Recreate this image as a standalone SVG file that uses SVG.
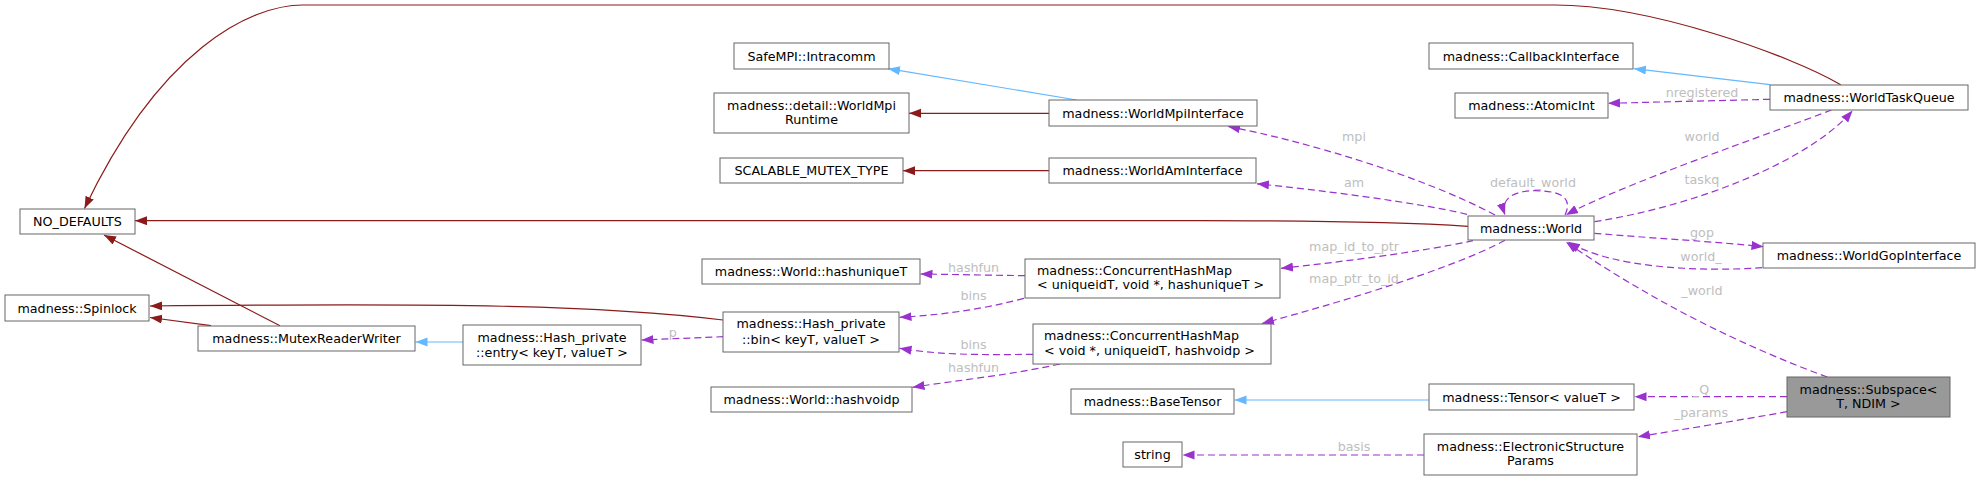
<svg xmlns="http://www.w3.org/2000/svg" width="1980" height="480" viewBox="0 0 1980 480">
<style>
.n rect{fill:#ffffff;stroke:#666666;stroke-width:1}
.n.cur rect{fill:#999999}
text{font-family:"DejaVu Sans","Liberation Sans",sans-serif;font-size:12.7px;fill:#000000}
.n text{text-anchor:middle}
.n text.l{text-anchor:start}
.lbl{fill:#bebebe;text-anchor:middle}
.e{fill:none;stroke-width:1.2}
.red{stroke:#8b1a1a;marker-end:url(#aR)}
.blue{stroke:#63b8ff;marker-end:url(#aB)}
.use{stroke:#9a32cd;stroke-dasharray:7,4;marker-end:url(#aP)}
</style>
<defs>
<marker id="aR" markerUnits="userSpaceOnUse" markerWidth="13" markerHeight="10" refX="12" refY="4.5" orient="auto"><path d="M0,0 L12,4.5 L0,9 z" fill="#8b1a1a"/></marker>
<marker id="aB" markerUnits="userSpaceOnUse" markerWidth="13" markerHeight="10" refX="12" refY="4.5" orient="auto"><path d="M0,0 L12,4.5 L0,9 z" fill="#63b8ff"/></marker>
<marker id="aP" markerUnits="userSpaceOnUse" markerWidth="13" markerHeight="10" refX="12" refY="4.5" orient="auto"><path d="M0,0 L12,4.5 L0,9 z" fill="#9a32cd"/></marker>
</defs>
<rect width="1980" height="480" fill="#ffffff"/>
<g id="connectors">
<path class="e red" d="M1840.7,84.7 C1790,55 1650,5 1555,5 L303,5 C250,5 160,50 84.5,208.5"/>
<path class="e red" d="M1468,226.3 C1400,222 1300,220.7 1200,220.7 L135,220.7"/>
<path class="e blue" d="M1076.7,100 L888,68.7"/>
<path class="e red" d="M1049,113.3 L909,113.3"/>
<path class="e red" d="M1049,170.7 L903,170.7"/>
<path class="e blue" d="M1770,84.7 L1634,68.7"/>
<path class="e use" d="M1770,99.3 L1608,103.3"/>
<path class="e use" d="M1831.5,110 C1780,130 1620,185 1566,215"/>
<path class="e use" d="M1594.5,221.7 C1700,205 1810,160 1852.6,110.5"/>
<path class="e use" d="M1565,215 C1572,200 1565,190.7 1535,190.7 C1512,190.7 1500,200 1505,215"/>
<path class="e use" d="M1495,215 C1420,175 1300,140 1228,126.5"/>
<path class="e use" d="M1467,214.3 C1420,203 1320,190 1257,183.8"/>
<path class="e use" d="M1473,240.7 C1420,252 1340,262 1281,268.3"/>
<path class="e use" d="M1505,240.3 C1450,270 1330,305 1262,323.5"/>
<path class="e use" d="M1594.5,233.3 C1650,238 1720,242 1763.5,246.7"/>
<path class="e use" d="M1762,267.7 C1700,272 1610,268 1568,241.7"/>
<path class="e use" d="M1827.3,377 C1740,345 1650,300 1566,242"/>
<path class="e use" d="M1787,396.7 L1634.5,396.7"/>
<path class="e use" d="M1787,411.7 C1740,420 1680,430 1638,436.7"/>
<path class="e use" d="M1424,455 L1182.5,455"/>
<path class="e blue" d="M1429,400 L1234.5,400"/>
<path class="e use" d="M1025,275.7 L920.5,274"/>
<path class="e use" d="M1024,298.3 C980,310 940,315 899.5,317.3"/>
<path class="e use" d="M1033,354.3 C980,355 940,355 899.5,348.3"/>
<path class="e use" d="M1060,364 C1010,375 960,380 912.5,387.3"/>
<path class="e red" d="M723,320 C600,305 450,303 150,306"/>
<path class="e red" d="M211,325.7 L150,317.5"/>
<path class="e red" d="M280,325.7 L104,235"/>
<path class="e blue" d="M463.5,342 L415.5,342"/>
<path class="e use" d="M723.3,336.7 L641.5,340"/>
<text class="lbl" x="1354" y="141">mpi</text>
<text class="lbl" x="1354" y="187">am</text>
<text class="lbl" x="1533" y="187">default_world</text>
<text class="lbl" x="1702" y="97">nregistered</text>
<text class="lbl" x="1702" y="141">world</text>
<text class="lbl" x="1702" y="183.5">taskq</text>
<text class="lbl" x="1702" y="237">gop</text>
<text class="lbl" x="1701" y="260.5">world_</text>
<text class="lbl" x="1354" y="251">map_id_to_ptr</text>
<text class="lbl" x="1354" y="283">map_ptr_to_id</text>
<text class="lbl" x="1702" y="294.5">_world</text>
<text class="lbl" x="1701" y="393.5">_Q</text>
<text class="lbl" x="1701" y="417">_params</text>
<text class="lbl" x="1354" y="450.5">basis</text>
<text class="lbl" x="973.6" y="272">hashfun</text>
<text class="lbl" x="973.6" y="299.5">bins</text>
<text class="lbl" x="973.6" y="349">bins</text>
<text class="lbl" x="973.6" y="372">hashfun</text>
<text class="lbl" x="672.7" y="336.5">p</text>
</g>
<g id="n_subspace" class="n cur"><rect x="1787" y="377" width="163" height="40"/><text x="1868.5" y="393.5">madness::Subspace&lt;</text><text x="1868.5" y="408">T, NDIM &gt;</text></g>
<g id="n_world" class="n"><rect x="1468" y="216" width="126" height="24"/><text x="1531" y="232.5">madness::World</text></g>
<g id="n_no_defaults" class="n"><rect x="20" y="209" width="115" height="25"/><text x="77.5" y="226">NO_DEFAULTS</text></g>
<g id="n_spinlock" class="n"><rect x="5" y="295" width="144" height="26"/><text x="77" y="312.5">madness::Spinlock</text></g>
<g id="n_mrw" class="n"><rect x="198" y="326" width="217" height="25"/><text x="306.5" y="343">madness::MutexReaderWriter</text></g>
<g id="n_entry" class="n"><rect x="463" y="325" width="178" height="40"/><text x="552" y="342">madness::Hash_private</text><text x="552" y="356.5">::entry&lt; keyT, valueT &gt;</text></g>
<g id="n_bin" class="n"><rect x="723" y="312" width="176" height="40"/><text x="811" y="328">madness::Hash_private</text><text x="811" y="343.5">::bin&lt; keyT, valueT &gt;</text></g>
<g id="n_hashuniqueT" class="n"><rect x="702" y="259" width="218" height="25"/><text x="811" y="276">madness::World::hashuniqueT</text></g>
<g id="n_chm1" class="n"><rect x="1025" y="259" width="255" height="39"/><text class="l" x="1037" y="274.5">madness::ConcurrentHashMap</text><text class="l" x="1037" y="289">&lt; uniqueidT, void *, hashuniqueT &gt;</text></g>
<g id="n_chm2" class="n"><rect x="1033" y="324" width="238" height="40"/><text class="l" x="1044" y="340">madness::ConcurrentHashMap</text><text class="l" x="1044" y="354.5">&lt; void *, uniqueidT, hashvoidp &gt;</text></g>
<g id="n_hashvoidp" class="n"><rect x="711" y="387" width="201" height="25"/><text x="811.5" y="404">madness::World::hashvoidp</text></g>
<g id="n_basetensor" class="n"><rect x="1071" y="389" width="163" height="25"/><text x="1152.5" y="406">madness::BaseTensor</text></g>
<g id="n_string" class="n"><rect x="1123" y="442" width="59" height="25"/><text x="1152.5" y="459">string</text></g>
<g id="n_safempi" class="n"><rect x="734" y="43" width="155" height="26"/><text x="811.5" y="60.5">SafeMPI::Intracomm</text></g>
<g id="n_wmr" class="n"><rect x="714" y="93" width="195" height="40"/><text x="811.5" y="110">madness::detail::WorldMpi</text><text x="811.5" y="124">Runtime</text></g>
<g id="n_scalable" class="n"><rect x="720" y="158" width="183" height="25"/><text x="811.5" y="175">SCALABLE_MUTEX_TYPE</text></g>
<g id="n_wmi" class="n"><rect x="1049" y="100" width="208" height="26"/><text x="1153" y="117.5">madness::WorldMpiInterface</text></g>
<g id="n_wai" class="n"><rect x="1049" y="158" width="207" height="25"/><text x="1152.5" y="175">madness::WorldAmInterface</text></g>
<g id="n_callback" class="n"><rect x="1429" y="43" width="204" height="26"/><text x="1531" y="60.5">madness::CallbackInterface</text></g>
<g id="n_atomicint" class="n"><rect x="1455" y="93" width="153" height="25"/><text x="1531.5" y="110">madness::AtomicInt</text></g>
<g id="n_wtq" class="n"><rect x="1770" y="85" width="198" height="25"/><text x="1869" y="102">madness::WorldTaskQueue</text></g>
<g id="n_wgi" class="n"><rect x="1763" y="243" width="212" height="25"/><text x="1869" y="260">madness::WorldGopInterface</text></g>
<g id="n_tensor" class="n"><rect x="1429" y="384" width="205" height="26"/><text x="1531.5" y="401.5">madness::Tensor&lt; valueT &gt;</text></g>
<g id="n_esp" class="n"><rect x="1424" y="434" width="213" height="41"/><text x="1530.5" y="451">madness::ElectronicStructure</text><text x="1530.5" y="465">Params</text></g>
</svg>
